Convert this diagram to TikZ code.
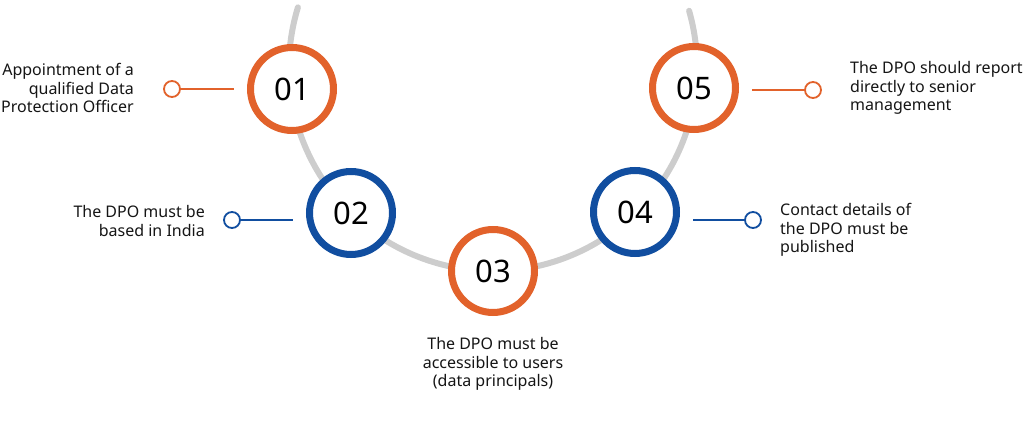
\documentclass[tikz,border=0pt]{standalone}
\usepackage{fontspec}
\setmainfont{Noto Sans}
\usepackage{xcolor}

\definecolor{dpoorange}{HTML}{E2622B}
\definecolor{dpoblue}{HTML}{114EA0}
\definecolor{trackgrey}{HTML}{CDCDCD}
\definecolor{inktext}{HTML}{151515}

\begin{document}
\begin{tikzpicture}[x=1pt, y=1pt,
    numring/.style={circle, draw=#1, line width=7pt, fill=white, minimum size=83pt, inner sep=0pt, text=black, font=\fontsize{31}{31}\selectfont},
    endring/.style={circle, draw=#1, line width=1.8pt, fill=white, minimum size=16pt, inner sep=0pt},
    leader/.style={draw=#1, line width=1.8pt, shorten >=13pt},
    note/.style={text=inktext, inner sep=0pt, font=\fontsize{16}{18.5}\selectfont}]
    \useasboundingbox (0,0) rectangle (1023,434);

    % grey track behind the steps
    \draw[trackgrey, line width=6pt, line cap=round] (493,367) ++(163:204) arc[start angle=163, end angle=376, radius=204];

    \node[numring=dpoorange] (n1) at (292,345) {01};
    \node[numring=dpoblue]   (n2) at (351,221) {02};
    \node[numring=dpoorange] (n3) at (493,163) {03};
    \node[numring=dpoblue]   (n4) at (635,222) {04};
    \node[numring=dpoorange] (n5) at (694,346) {05};

    \node[endring=dpoorange] (d1) at (172,345) {};
    \node[endring=dpoblue]   (d2) at (232,214) {};
    \node[endring=dpoblue]   (d4) at (753,214) {};
    \node[endring=dpoorange] (d5) at (813,344) {};

    \draw[leader=dpoorange] (d1) -- (d1 -| n1.west);
    \draw[leader=dpoblue]   (d2) -- (d2 -| n2.west);
    \draw[leader=dpoblue]   (d4) -- (d4 -| n4.east);
    \draw[leader=dpoorange] (d5) -- (d5 -| n5.east);

    \node[note, anchor=east, align=right] (t1) at (134,346) {Appointment of a\\qualified Data\\Protection Officer};
    \node[note, anchor=east, align=right] (t2) at (205,213) {The DPO must be\\based in India};
    \node[note, align=center] (t3) at (493,70) {The DPO must be\\accessible to users\\(data principals)};
    \node[note, anchor=west, align=left] (t4) at (780,204) {Contact details of\\the DPO must be\\published};
    \node[note, anchor=west, align=left] (t5) at (850,346) {The DPO should report\\directly to senior\\management};

\end{tikzpicture}
\end{document}
